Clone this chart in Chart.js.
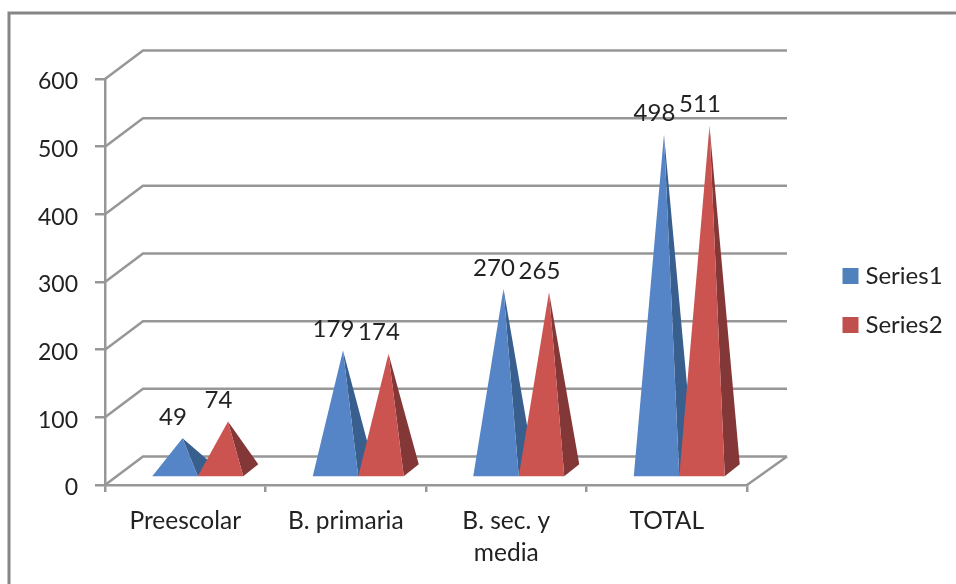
<!DOCTYPE html>
<html>
<head>
<meta charset="utf-8">
<style>html,body{margin:0;padding:0;background:#fff}canvas{display:block}</style>
<script src="https://cdn.jsdelivr.net/npm/chart.js@4"></script>
</head>
<body>
<canvas id="c" width="956" height="584"></canvas>
<script>
const categories = ['Preescolar', 'B. primaria', ['B. sec. y', 'media'], 'TOTAL'];
const series1 = [49, 179, 270, 498];
const series2 = [74, 174, 265, 511];
const yTicks = [0, 100, 200, 300, 400, 500, 600];

const FONT = 'Lato, Carlito, sans-serif';
const LINE = '#979797';
const TEXT = '#222222';
const shades = {
  Series1: { front: '#5585C6', side: '#385F8E' },
  Series2: { front: '#CB5451', side: '#843737' }
};

const pyramid3d = {
  id: 'pyramid3d',
  beforeDraw(chart) {
    const c = chart.ctx;
    c.save();
    c.fillStyle = '#fff';
    c.fillRect(0, 0, chart.width, chart.height);
    c.strokeStyle = '#868686';
    c.lineWidth = 3;
    c.beginPath();
    c.moveTo(9, chart.height);
    c.lineTo(9, 13);
    c.lineTo(chart.width, 13);
    c.stroke();
    c.restore();
  },
  afterLayout(chart) {
    const l = chart.legend;
    l.left = 822.5; l.right = 956; l.top = 239; l.bottom = 584;
    l.width = 133.5; l.height = 345;
    const s = chart.scales.y;
    if (!s._shifted) {
      const orig = s._computeLabelItems;
      s._computeLabelItems = a => orig.call(s, a).map(it => {
        it.options.translation = [it.options.translation[0], it.options.translation[1] + 3];
        return it;
      });
      s._shifted = true;
    }
  },
  beforeDatasetsDraw(chart) {
    const c = chart.ctx, a = chart.chartArea, y = chart.scales.y;
    const dx = 38, dy = 28.5, backRight = 787;
    c.save();
    c.strokeStyle = LINE;
    c.lineWidth = 2.5;
    c.beginPath();
    yTicks.forEach(v => {
      const p = y.getPixelForValue(v);
      c.moveTo(a.left, p);
      c.lineTo(a.left + dx, p - dy);
      c.lineTo(backRight, p - dy);
    });
    const p0 = y.getPixelForValue(0);
    c.moveTo(backRight, p0 - dy);
    c.lineTo(a.right, p0);
    c.stroke();
    c.restore();
  },
  beforeDatasetDraw() { return false; },
  afterDatasetsDraw(chart) {
    const c = chart.ctx;
    const ox = 12.5, oy = -7.5, depthX = 15, depthY = -12;
    c.save();
    chart.data.datasets.forEach((ds, i) => {
      const meta = chart.getDatasetMeta(i);
      const col = shades[ds.label];
      meta.data.forEach(bar => {
        const { x, y, base, width } = bar.getProps(['x', 'y', 'base', 'width'], false);
        const l = x - width / 2 + ox, r = x + width / 2 + ox, b = base + oy;
        const ax = x + ox + depthX / 2, ay = y + oy + depthY / 2;
        c.fillStyle = col.side;
        c.beginPath();
        c.moveTo(ax, ay); c.lineTo(r, b); c.lineTo(r + depthX, b + depthY);
        c.closePath(); c.fill();
        c.fillStyle = col.front;
        c.beginPath();
        c.moveTo(ax, ay); c.lineTo(l, b); c.lineTo(r, b);
        c.closePath(); c.fill();
      });
    });
    chart.data.datasets.forEach((ds, i) => {
      chart.getDatasetMeta(i).data.forEach((bar, j) => {
        const { x, y } = bar.getProps(['x', 'y'], false);
        c.fillStyle = TEXT;
        c.font = '24px ' + FONT;
        c.textAlign = 'center';
        c.textBaseline = 'middle';
        c.fillText(String(ds.data[j]), x + ox + depthX / 2 - 9.5, y + oy + depthY / 2 - 21);
      });
    });
    c.restore();
  }
};

new Chart(document.getElementById('c'), {
  type: 'bar',
  data: {
    labels: categories,
    datasets: [
      { label: 'Series1', data: series1, backgroundColor: '#4F81BD', borderColor: '#4F81BD', borderWidth: 10 },
      { label: 'Series2', data: series2, backgroundColor: '#C0504D', borderColor: '#C0504D', borderWidth: 10 }
    ]
  },
  plugins: [pyramid3d],
  options: {
    responsive: false,
    animation: false,
    devicePixelRatio: 1,
    layout: { padding: { left: 0, top: 79, right: 209, bottom: 0 } },
    datasets: { bar: { categoryPercentage: 0.567, barPercentage: 1 } },
    plugins: {
      tooltip: { enabled: false },
      title: { display: false },
      legend: {
        position: 'chartArea',
        align: 'start',
        labels: {
          boxWidth: 6, boxHeight: 6, padding: 25,
          color: TEXT,
          font: { family: FONT, size: 24 }
        }
      }
    },
    scales: {
      x: {
        afterFit(s) { s.height = 99; },
        grid: { offset: true, drawOnChartArea: false, color: LINE, lineWidth: 2.5, tickLength: 7 },
        border: { color: LINE, width: 2.5 },
        ticks: {
          color: TEXT, maxRotation: 0, minRotation: 0, padding: 14,
          font: { family: FONT, size: 24.5, lineHeight: 1.27 }
        }
      },
      y: {
        min: 0, max: 600,
        afterFit(s) { s.width = 105; },
        afterBuildTicks(s) { s.ticks = yTicks.map(v => ({ value: v })); },
        grid: { drawOnChartArea: false, color: LINE, lineWidth: 2.5, tickLength: 10 },
        border: { color: LINE, width: 2.5 },
        ticks: {
          color: TEXT, padding: 17,
          font: { family: FONT, size: 23 }
        }
      }
    }
  }
});
</script>
</body>
</html>
